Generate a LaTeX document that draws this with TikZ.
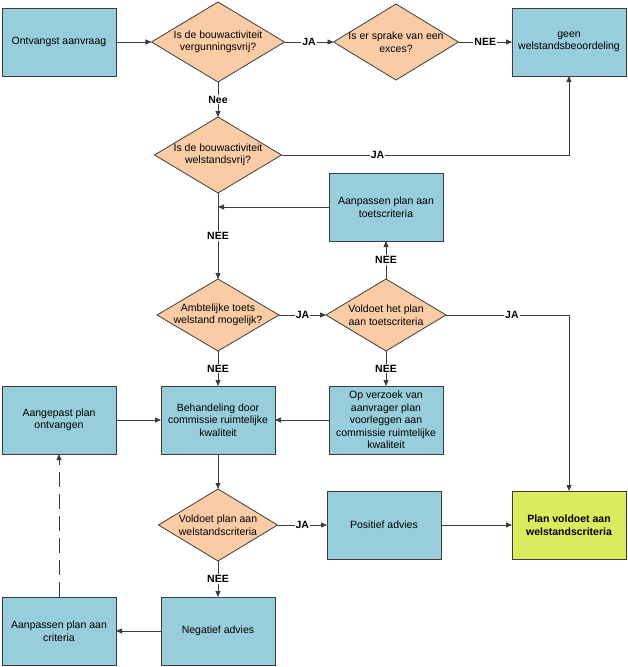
\documentclass[tikz,border=0pt]{standalone}
\usepackage{fontspec}
\setmainfont{Liberation Sans}
\usetikzlibrary{shapes.geometric,arrows.meta}
\definecolor{boxblue}{RGB}{152,206,220}
\definecolor{diapeach}{RGB}{250,204,166}
\definecolor{okgreen}{RGB}{218,236,94}
\definecolor{linegray}{RGB}{60,60,60}

\begin{document}
\begin{tikzpicture}[x=1pt,y=-1pt,>={Triangle[length=6pt,width=5pt]}]
			\fontsize{10.5}{12.5}\selectfont
			\useasboundingbox (0,0) rectangle (628,667);

			\begin{scope}[every node/.style={rectangle,draw=linegray,line width=0.8pt,fill=boxblue,minimum width=114pt,minimum height=68pt,align=center,inner sep=2pt,outer sep=0pt}]
				\node (ontvangst) at (59,42) {Ontvangst aanvraag};
				\node (geen) at (569,42) {geen\\welstandsbeoordeling};
				\node (aanptoets) at (386,207) {Aanpassen plan aan\\toetscriteria};
				\node (aangepast) at (59,420) {Aangepast plan\\ontvangen};
				\node (behandeling) at (218,420) {Behandeling door\\commissie ruimtelijke\\kwaliteit};
				\node (opverzoek) at (386,420) {Op verzoek van\\aanvrager plan\\voorleggen aan\\commissie ruimtelijke\\kwaliteit};
				\node (positief) at (384,525) {Positief advies};
				\node [fill=okgreen,font=\bfseries] (planok) at (569,525) {Plan voldoet aan\\welstandscriteria};
				\node (negatief) at (218,631) {Negatief advies};
				\node (aanpcrit) at (59,631) {Aanpassen plan aan\\criteria};
			\end{scope}

			\begin{scope}[every node/.style={diamond,aspect=1.65,draw=linegray,line width=0.8pt,fill=diapeach,align=center,inner xsep=-6pt,inner ysep=0pt,outer sep=0pt}]
				\node [minimum width=133pt,minimum height=80pt] (vrij) at (218,42) {Is de bouwactiviteit\\vergunningsvrij?};
				\node [minimum width=125pt,minimum height=76pt] (exces) at (396,42) {Is er sprake van een\\exces?};
				\node [minimum width=127pt,minimum height=76pt] (welvrij) at (218,155) {Is de bouwactiviteit\\welstandsvrij?};
				\node [minimum width=122pt,minimum height=72pt] (ambt) at (218,315) {Ambtelijke toets\\welstand mogelijk?};
				\node [minimum width=120pt,minimum height=72pt] (toets) at (386,315) {Voldoet het plan\\aan toetscriteria};
				\node [minimum width=119pt,minimum height=72pt] (welcrit) at (218,525) {Voldoet plan aan\\welstandscriteria};
			\end{scope}

			\begin{scope}[every edge/.style={draw=linegray,line width=0.8pt,->},every node/.style={fill=white,inner sep=1pt,font=\bfseries}]
				\path (ontvangst) edge (vrij);
				\path (vrij) edge node {JA} (exces);
				\path (exces) edge node {NEE} (geen);
				\path (vrij) edge node {Nee} (welvrij);
				\path (welvrij) edge node {NEE} (ambt);
				\path (aanptoets.west) edge (aanptoets.west -| welvrij.south);
				\path (ambt) edge node {JA} (toets);
				\path (toets) edge node {NEE} (aanptoets);
				\path (ambt) edge node {NEE} (behandeling);
				\path (toets) edge node {NEE} (opverzoek);
				\path (opverzoek) edge (behandeling);
				\path (aangepast) edge (behandeling);
				\path (behandeling) edge (welcrit);
				\path (welcrit) edge node {JA} (positief);
				\path (positief) edge (planok);
				\path (welcrit) edge node {NEE} (negatief);
				\path (negatief) edge (aanpcrit);
				\path (aanpcrit) edge [dash pattern=on 15pt off 7pt] (aangepast);
				\draw [->,draw=linegray,line width=0.8pt] (welvrij.east) -| node [pos=0.167] {JA} (geen.south);
				\draw [->,draw=linegray,line width=0.8pt] (toets.east) -| node [pos=0.268] {JA} (planok.north);
			\end{scope}
		\end{tikzpicture}
\end{document}
